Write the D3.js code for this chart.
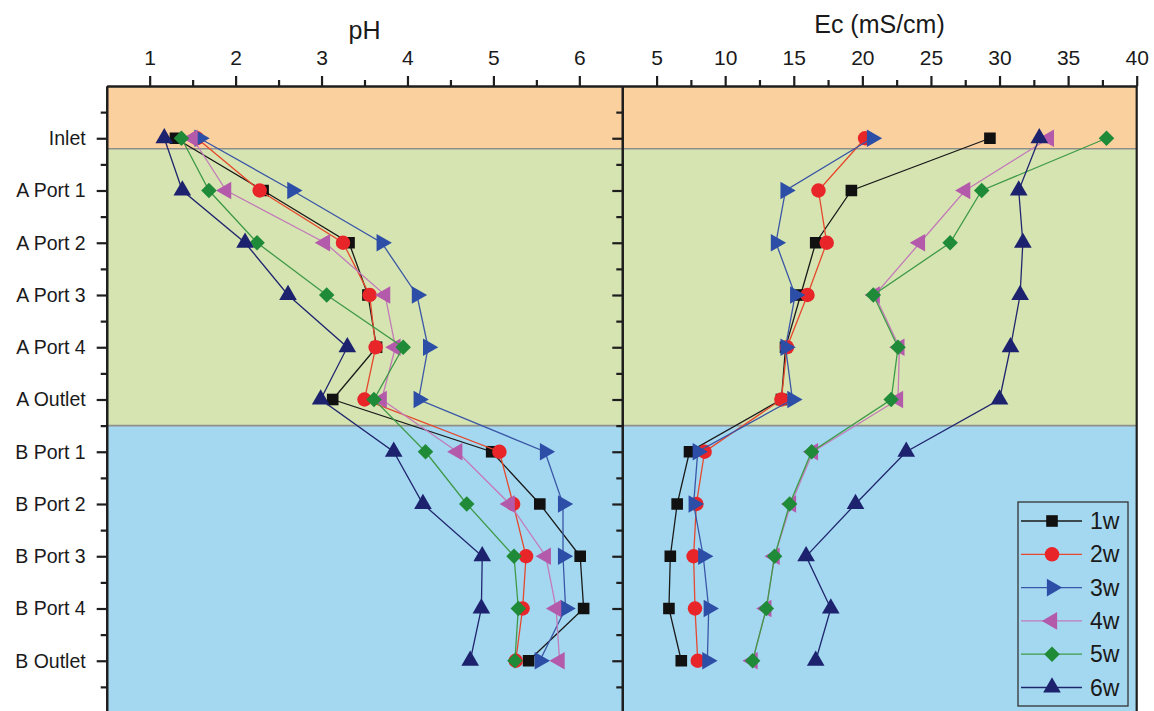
<!DOCTYPE html>
<html>
<head>
<meta charset="utf-8">
<script src="https://cdn.jsdelivr.net/npm/d3@7"></script>
<style>
  html, body { margin: 0; padding: 0; background: #ffffff; }
  svg { display: block; font-family: "Liberation Sans", Arial, sans-serif; }
</style>
</head>
<body>
<svg id="chart" width="1154" height="711"></svg>
<script>
// ---------------- data ----------------
const categories = ["Inlet", "A Port 1", "A Port 2", "A Port 3", "A Port 4", "A Outlet",
                    "B Port 1", "B Port 2", "B Port 3", "B Port 4", "B Outlet"];
const seriesNames = ["1w", "2w", "3w", "4w", "5w", "6w"];

const pH_1w = [1.30, 2.32, 3.32, 3.54, 3.64, 3.13, 4.98, 5.54, 6.01, 6.05, 5.41];
const pH_2w = [1.55, 2.28, 3.25, 3.56, 3.63, 3.50, 5.07, 5.23, 5.38, 5.34, 5.26];
const pH_3w = [1.58, 2.66, 3.70, 4.11, 4.24, 4.13, 5.60, 5.81, 5.81, 5.84, 5.54];
const pH_4w = [1.50, 1.89, 3.04, 3.74, 3.86, 3.70, 4.58, 5.19, 5.61, 5.73, 5.77];
const pH_5w = [1.37, 1.69, 2.25, 3.06, 3.95, 3.61, 4.21, 4.69, 5.24, 5.29, 5.25];
const pH_6w = [1.17, 1.38, 2.11, 2.61, 3.30, 2.99, 3.84, 4.18, 4.87, 4.86, 4.73];

const ec_1w = [29.3, 19.2, 16.6, 15.5, 14.4, 14.1, 7.4, 6.5, 6.0, 5.9, 6.8];
const ec_2w = [20.2, 16.8, 17.4, 16.0, 14.5, 14.1, 8.5, 7.9, 7.7, 7.8, 8.0];
const ec_3w = [20.7, 14.4, 13.7, 15.1, 14.4, 14.9, 8.0, 7.7, 8.4, 8.8, 8.7];
const ec_4w = [33.6, 27.5, 24.2, 20.9, 22.7, 22.6, 16.4, 14.8, 13.6, 13.0, 12.0];
const ec_5w = [37.8, 28.7, 26.4, 20.8, 22.6, 22.1, 16.3, 14.7, 13.6, 13.0, 12.0];
const ec_6w = [32.9, 31.4, 31.7, 31.5, 30.8, 30.0, 23.2, 19.5, 15.9, 17.7, 16.6];

const pHTicks = [1, 2, 3, 4, 5, 6];
const pHMinorTicks = [1.5, 2.5, 3.5, 4.5, 5.5];
const ecTicks = [5, 10, 15, 20, 25, 30, 35, 40];
const ecMinorTicks = [7.5, 12.5, 17.5, 22.5, 27.5, 32.5, 37.5];

// ---------------- styles ----------------
const lineColors   = ["#1a1a1a", "#e5482c", "#3a56a6", "#c37bb9", "#3f9a48", "#20266e"];
const markerColors = ["#111111", "#e8262a", "#2d4ea6", "#b45aab", "#1f8a38", "#1c226e"];
const markerTypes  = ["square", "circle", "triRight", "triLeft", "diamond", "triUp"];

const W = 1154, H = 711;
const leftX0 = 106.7, divX = 622.3, rightX1 = 1136.7;
const plotTop = 86, plotBottom = 713;

const svg = d3.select("#chart");

const y = d3.scaleLinear().domain([-1, 11]).range([plotTop, plotBottom]);
const xPH = d3.scaleLinear().domain([0.5, 6.5]).range([leftX0, divX]);
const xEC = d3.scaleLinear().domain([2.5, 40]).range([divX, rightX1]);

// background bands
const bands = [
  {from: -1, to: 0.2, color: "#fbd09f"},
  {from: 0.2, to: 5.5, color: "#d6e4b1"},
  {from: 5.5, to: 11, color: "#a4d8f0"}
];
svg.append("g").selectAll("rect").data(bands).join("rect")
  .attr("x", leftX0).attr("width", rightX1 - leftX0)
  .attr("y", d => y(d.from)).attr("height", d => y(d.to) - y(d.from))
  .attr("fill", d => d.color);
svg.append("g").selectAll("line").data([0.2, 5.5]).join("line")
  .attr("x1", leftX0).attr("x2", rightX1)
  .attr("y1", d => y(d)).attr("y2", d => y(d))
  .attr("stroke", "#8f8f8a").attr("stroke-width", 1.6);

// marker generator
function markerPath(type) {
  switch (type) {
    case "square":   return d3.symbol(d3.symbolSquare, 135)();
    case "circle":   return d3.symbol(d3.symbolCircle, 165)();
    case "diamond":  return d3.symbol(d3.symbolSquare, 120)();
    default:         return d3.symbol(d3.symbolTriangle, 135)();
  }
}
function markerRotate(type) {
  if (type === "triRight") return 90;
  if (type === "triLeft") return -90;
  if (type === "diamond") return 45;
  return 0;
}

function drawPanel(series, xScale, clipId, x0, x1) {
  svg.append("clipPath").attr("id", clipId).append("rect")
    .attr("x", x0).attr("y", plotTop).attr("width", x1 - x0).attr("height", H - plotTop);
  const g = svg.append("g").attr("clip-path", `url(#${clipId})`);
  series.forEach((vals, si) => {
    const line = d3.line().x(d => xScale(d)).y((d, i) => y(i));
    g.append("path").datum(vals)
      .attr("d", line).attr("fill", "none")
      .attr("stroke", lineColors[si]).attr("stroke-width", 1.3);
    g.append("g").selectAll("path").data(vals).join("path")
      .attr("d", markerPath(markerTypes[si]))
      .attr("transform", (d, i) => `translate(${xScale(d)},${y(i)}) rotate(${markerRotate(markerTypes[si])})`)
      .attr("fill", markerColors[si]);
  });
}

drawPanel([pH_1w, pH_2w, pH_3w, pH_4w, pH_5w, pH_6w], xPH, "clipL", leftX0, divX);
drawPanel([ec_1w, ec_2w, ec_3w, ec_4w, ec_5w, ec_6w], xEC, "clipR", divX, rightX1);

// ---------------- axes ----------------
const axisColor = "#1e1e1e";
function styleAxis(g, fontSize) {
  g.select(".domain").attr("stroke", axisColor).attr("stroke-width", 2.2);
  g.selectAll(".tick line").attr("stroke", axisColor).attr("stroke-width", 2.2);
  g.selectAll(".tick text").attr("fill", "#1a1a1a").attr("font-size", fontSize)
    .attr("font-family", "Liberation Sans, Arial, sans-serif");
}

// top pH axis
const gPH = svg.append("g").attr("transform", `translate(0,${plotTop})`)
  .call(d3.axisTop(xPH).tickValues(pHTicks).tickSize(10).tickPadding(11).tickSizeOuter(0).tickFormat(d3.format("d")));
styleAxis(gPH, 21);
const gPHm = svg.append("g").attr("transform", `translate(0,${plotTop})`)
  .call(d3.axisTop(xPH).tickValues(pHMinorTicks).tickSize(6).tickFormat("").tickSizeOuter(0));
styleAxis(gPHm, 21);

// top Ec axis
const gEC = svg.append("g").attr("transform", `translate(0,${plotTop})`)
  .call(d3.axisTop(xEC).tickValues(ecTicks).tickSize(10).tickPadding(11).tickSizeOuter(0).tickFormat(d3.format("d")));
styleAxis(gEC, 21);
const gECm = svg.append("g").attr("transform", `translate(0,${plotTop})`)
  .call(d3.axisTop(xEC).tickValues(ecMinorTicks).tickSize(6).tickFormat("").tickSizeOuter(0));
styleAxis(gECm, 21);

// left category axis
const catIdx = d3.range(categories.length);
const minorIdx = d3.range(-0.5, 11, 1);
const gL = svg.append("g").attr("transform", `translate(${leftX0},0)`)
  .call(d3.axisLeft(y).tickValues(catIdx).tickSize(10).tickPadding(11).tickSizeOuter(0)
    .tickFormat(i => categories[i]));
styleAxis(gL, 19.5);
const gLm = svg.append("g").attr("transform", `translate(${leftX0},0)`)
  .call(d3.axisLeft(y).tickValues(minorIdx).tickSize(6).tickFormat("").tickSizeOuter(0));
styleAxis(gLm, 19);

// divider axis (ticks pointing left, no labels)
const gD = svg.append("g").attr("transform", `translate(${divX},0)`)
  .call(d3.axisLeft(y).tickValues(catIdx).tickSize(10).tickFormat("").tickSizeOuter(0));
styleAxis(gD, 19);
const gDm = svg.append("g").attr("transform", `translate(${divX},0)`)
  .call(d3.axisLeft(y).tickValues(minorIdx).tickSize(6).tickFormat("").tickSizeOuter(0));
styleAxis(gDm, 19);

// right border
svg.append("line").attr("x1", rightX1).attr("x2", rightX1).attr("y1", plotTop).attr("y2", plotBottom)
  .attr("stroke", axisColor).attr("stroke-width", 2.2);

// titles
svg.append("text").attr("x", (leftX0 + divX) / 2).attr("y", 39).attr("text-anchor", "middle")
  .attr("font-size", 25).attr("fill", "#1a1a1a").text("pH");
svg.append("text").attr("x", (divX + rightX1) / 2).attr("y", 33).attr("text-anchor", "middle")
  .attr("font-size", 25).attr("fill", "#1a1a1a").text("Ec (mS/cm)");

// ---------------- legend ----------------
const lg = svg.append("g");
const lgX = 1018, lgY = 502, lgW = 110, lgH = 204;
lg.append("rect").attr("x", lgX).attr("y", lgY).attr("width", lgW).attr("height", lgH)
  .attr("fill", "none").attr("stroke", "#333").attr("stroke-width", 1.3);
const items = lg.selectAll("g.item").data(seriesNames).join("g")
  .attr("transform", (d, i) => `translate(${lgX},${lgY + 19 + i * 33.3})`);
items.append("line").attr("x1", 3).attr("x2", 64).attr("y1", 0).attr("y2", 0)
  .attr("stroke", (d, i) => lineColors[i]).attr("stroke-width", 1.3);
items.append("path")
  .attr("d", (d, i) => markerPath(markerTypes[i]))
  .attr("transform", (d, i) => `translate(34,0) rotate(${markerRotate(markerTypes[i])})`)
  .attr("fill", (d, i) => markerColors[i]);
items.append("text").attr("x", 72).attr("y", 0).attr("dy", "0.35em")
  .attr("font-size", 23).attr("fill", "#1a1a1a").text(d => d);
</script>
</body>
</html>
